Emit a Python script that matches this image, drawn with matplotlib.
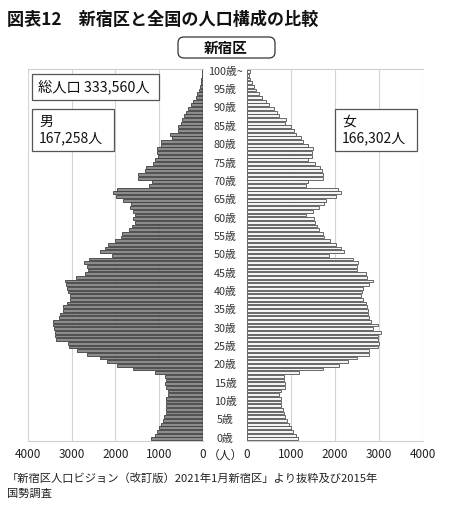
import numpy as np
import matplotlib
matplotlib.use('Agg')
import matplotlib.pyplot as plt
import matplotlib.transforms as mtransforms
from matplotlib.patches import FancyBboxPatch, Rectangle

plt.rcParams['font.family'] = ['Noto Sans CJK JP', 'DejaVu Sans']

# ages 0..100 (100 = 100歳以上)
ages = np.arange(0, 101)

male = [1190, 1100, 1060, 1010, 960, 925, 895, 850, 835, 835,
        855, 835, 810, 810, 835, 870, 855, 870, 1100, 1590,
        1970, 2200, 2350, 2650, 2880, 3070, 3080, 3350, 3380, 3380,
        3410, 3430, 3430, 3300, 3270, 3200, 3200, 3100, 3050, 3030,
        3080, 3100, 3140, 3160, 2900, 2690, 2630, 2650, 2730, 2600,
        2080, 2350, 2230, 2160, 2010, 1870, 1860, 1700, 1620, 1550,
        1590, 1560, 1610, 1660, 1640, 1830, 1980, 2060, 1970, 1230,
        1170, 1480, 1480, 1330, 1300, 1150, 1100, 1020, 1060, 1050,
        950, 950, 720, 760, 570, 570, 510, 480, 430, 400,
        340, 265, 230, 170, 130, 90, 70, 55, 40, 20,
        15]

female = [1150, 1110, 1050, 1000, 950, 910, 860, 850, 810, 770,
          770, 770, 735, 770, 860, 860, 850, 850, 1190, 1720,
          2080, 2290, 2490, 2770, 2770, 2970, 2990, 2970, 2970, 3050,
          2870, 2970, 2820, 2780, 2740, 2740, 2730, 2700, 2630, 2590,
          2610, 2630, 2770, 2860, 2730, 2700, 2490, 2490, 2520, 2400,
          1870, 2210, 2140, 2030, 1880, 1760, 1720, 1630, 1590, 1550,
          1530, 1340, 1490, 1640, 1760, 1800, 2030, 2140, 2060, 1340,
          1380, 1720, 1720, 1700, 1650, 1550, 1380, 1470, 1480, 1490,
          1380, 1265, 1230, 1110, 1075, 1000, 860, 890, 735, 675,
          620, 490, 430, 330, 265, 200, 150, 110, 75, 50,
          70]

age_labels = [f'{a}歳' for a in range(0, 100, 5)] + ['100歳~']
age_label_pos = list(range(0, 101, 5))
xticks = [0, 1000, 2000, 3000, 4000]

title = '図表12　新宿区と全国の人口構成の比較'
total_text = '総人口 333,560人'
male_text = '男\n167,258人'
female_text = '女\n166,302人'
source = '「新宿区人口ビジョン（改訂版）2021年1月新宿区」より抜粋及び2015年\n国勢調査'

W, H = 450, 514
fig = plt.figure(figsize=(W / 100, H / 100), dpi=100)

bottom = 1 - 441 / H
height = 372 / H
ax_m = fig.add_axes([28 / W, bottom, 175 / W, height])
ax_f = fig.add_axes([247 / W, bottom, 176 / W, height])

ax_m.barh(ages, male, height=0.76, color='#8c8c8c', edgecolor='#3c3c3c', linewidth=0.6, zorder=3)
ax_f.barh(ages, female, height=0.76, color='#f4f4f4', edgecolor='#505050', linewidth=0.6, zorder=3)

for ax in (ax_m, ax_f):
    ax.set_xlim(0, 4000)
    ax.set_ylim(-0.6, 100.75)
    ax.set_xticks(xticks)
    ax.set_xticklabels([str(t) for t in xticks], fontsize=8.5, color='#222222')
    ax.set_yticks([])
    ax.tick_params(axis='x', length=0, pad=5)
    ax.grid(axis='x', color='#d4d4d4', linewidth=0.8, zorder=0)
    for s in ('left', 'right'):
        ax.spines[s].set_visible(False)
    for s in ('top', 'bottom'):
        ax.spines[s].set_color('#cfcfcf')
        ax.spines[s].set_linewidth(0.8)
ax_m.invert_xaxis()
ax_m.axvline(0, color='#222222', linewidth=1.0, zorder=4)

# age labels in the centre gap
trans = mtransforms.blended_transform_factory(fig.transFigure, ax_m.transData)
for pos, lab in zip(age_label_pos, age_labels):
    ax_m.text(225 / W, pos, lab, transform=trans, ha='center', va='center',
              fontsize=7.8, color='#333333', clip_on=False)
fig.text(225 / W, 1 - 455 / H, '（人）', ha='center', va='center', fontsize=8.5, color='#222222')

# overlay in pixel coordinates for titles and boxes
ov = fig.add_axes([0, 0, 1, 1], zorder=10)
ov.set_xlim(0, W)
ov.set_ylim(H, 0)
ov.axis('off')
ov.patch.set_alpha(0)

ov.text(7, 20, title, fontsize=12.3, fontweight='bold', ha='left', va='center', color='#111111')

ov.add_patch(FancyBboxPatch((178, 37), 97, 21, boxstyle='round,pad=0,rounding_size=6',
                            facecolor='white', edgecolor='#333333', linewidth=0.9))
ov.text(226, 47.5, '新宿区', fontsize=10.5, fontweight='bold', ha='center', va='center', color='#111111')

ov.add_patch(Rectangle((32, 74), 127, 26, facecolor='white', edgecolor='#555555', linewidth=0.9))
ov.text(38, 87, total_text, fontsize=10.3, ha='left', va='center', color='#111111')

ov.add_patch(Rectangle((32, 109), 82, 42, facecolor='white', edgecolor='#555555', linewidth=0.9))
ov.text(39, 130, male_text, fontsize=10, ha='left', va='center', color='#111111', linespacing=1.2)

ov.add_patch(Rectangle((335, 109), 82, 42, facecolor='white', edgecolor='#555555', linewidth=0.9))
ov.text(342, 130, female_text, fontsize=10, ha='left', va='center', color='#111111', linespacing=1.2)

ov.text(7, 486, source, fontsize=8.1, ha='left', va='center', color='#222222', linespacing=1.5)

fig.savefig('out.png', dpi=100)
